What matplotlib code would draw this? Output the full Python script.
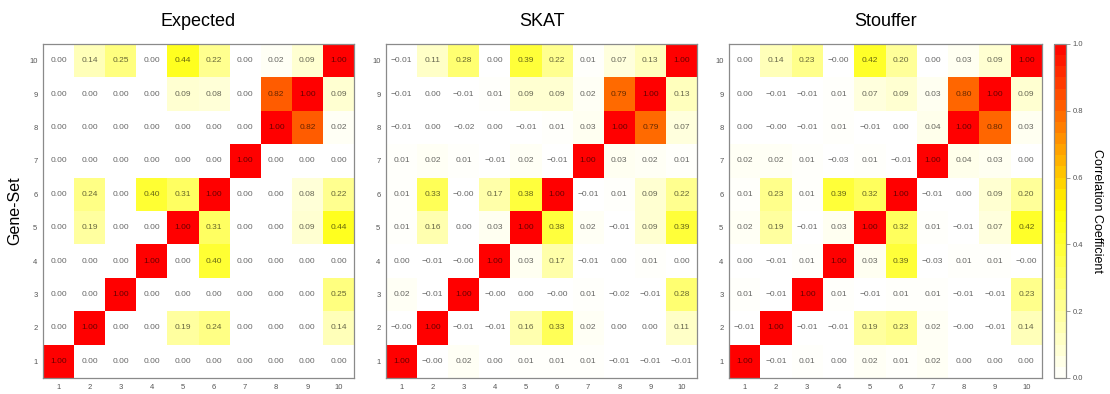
import numpy as np
import matplotlib
matplotlib.use("Agg")
import matplotlib.pyplot as plt
from matplotlib.colors import LinearSegmentedColormap, Normalize
from matplotlib.cm import ScalarMappable

plt.rcParams['font.family'] = ['Liberation Sans', 'DejaVu Sans']

gene_sets = [str(i) for i in range(1, 11)]

# Rows listed from gene-set 10 (top) down to gene-set 1 (bottom)
expected = [
    [0.00, 0.14, 0.25, 0.00, 0.44, 0.22, 0.00, 0.02, 0.09, 1.00],
    [0.00, 0.00, 0.00, 0.00, 0.09, 0.08, 0.00, 0.82, 1.00, 0.09],
    [0.00, 0.00, 0.00, 0.00, 0.00, 0.00, 0.00, 1.00, 0.82, 0.02],
    [0.00, 0.00, 0.00, 0.00, 0.00, 0.00, 1.00, 0.00, 0.00, 0.00],
    [0.00, 0.24, 0.00, 0.40, 0.31, 1.00, 0.00, 0.00, 0.08, 0.22],
    [0.00, 0.19, 0.00, 0.00, 1.00, 0.31, 0.00, 0.00, 0.09, 0.44],
    [0.00, 0.00, 0.00, 1.00, 0.00, 0.40, 0.00, 0.00, 0.00, 0.00],
    [0.00, 0.00, 1.00, 0.00, 0.00, 0.00, 0.00, 0.00, 0.00, 0.25],
    [0.00, 1.00, 0.00, 0.00, 0.19, 0.24, 0.00, 0.00, 0.00, 0.14],
    [1.00, 0.00, 0.00, 0.00, 0.00, 0.00, 0.00, 0.00, 0.00, 0.00],
]

skat = [
    [-0.01, 0.11, 0.28, 0.00, 0.39, 0.22, 0.01, 0.07, 0.13, 1.00],
    [-0.01, 0.00, -0.01, 0.01, 0.09, 0.09, 0.02, 0.79, 1.00, 0.13],
    [-0.01, 0.00, -0.02, 0.00, -0.01, 0.01, 0.03, 1.00, 0.79, 0.07],
    [0.01, 0.02, 0.01, -0.01, 0.02, -0.01, 1.00, 0.03, 0.02, 0.01],
    [0.01, 0.33, -0.0, 0.17, 0.38, 1.00, -0.01, 0.01, 0.09, 0.22],
    [0.01, 0.16, 0.00, 0.03, 1.00, 0.38, 0.02, -0.01, 0.09, 0.39],
    [0.00, -0.01, -0.0, 1.00, 0.03, 0.17, -0.01, 0.00, 0.01, 0.00],
    [0.02, -0.01, 1.00, -0.0, 0.00, -0.0, 0.01, -0.02, -0.01, 0.28],
    [-0.0, 1.00, -0.01, -0.01, 0.16, 0.33, 0.02, 0.00, 0.00, 0.11],
    [1.00, -0.0, 0.02, 0.00, 0.01, 0.01, 0.01, -0.01, -0.01, -0.01],
]

stouffer = [
    [0.00, 0.14, 0.23, -0.0, 0.42, 0.20, 0.00, 0.03, 0.09, 1.00],
    [0.00, -0.01, -0.01, 0.01, 0.07, 0.09, 0.03, 0.80, 1.00, 0.09],
    [0.00, -0.0, -0.01, 0.01, -0.01, 0.00, 0.04, 1.00, 0.80, 0.03],
    [0.02, 0.02, 0.01, -0.03, 0.01, -0.01, 1.00, 0.04, 0.03, 0.00],
    [0.01, 0.23, 0.01, 0.39, 0.32, 1.00, -0.01, 0.00, 0.09, 0.20],
    [0.02, 0.19, -0.01, 0.03, 1.00, 0.32, 0.01, -0.01, 0.07, 0.42],
    [0.00, -0.01, 0.01, 1.00, 0.03, 0.39, -0.03, 0.01, 0.01, -0.0],
    [0.01, -0.01, 1.00, 0.01, -0.01, 0.01, 0.01, -0.01, -0.01, 0.23],
    [-0.01, 1.00, -0.01, -0.01, 0.19, 0.23, 0.02, -0.0, -0.01, 0.14],
    [1.00, -0.01, 0.01, 0.00, 0.02, 0.01, 0.02, 0.00, 0.00, 0.00],
]

titles = ["Expected", "SKAT", "Stouffer"]
panels = [expected, skat, stouffer]

cmap = LinearSegmentedColormap.from_list(
    "wyr", [(0.0, "#FFFFFF"), (0.5, "#FFFF00"), (1.0, "#FF0000")])
norm = Normalize(vmin=0.0, vmax=1.0)

W, H = 1110, 394
fig = plt.figure(figsize=(W / 100, H / 100), dpi=100)

ax_rects = [(43, 378, 311, 334), (386, 378, 311, 334), (729, 378, 313, 334)]
spine_col = "#8a8a8a"

for (x0, yb, w, h), title, data in zip(ax_rects, titles, panels):
    ax = fig.add_axes([x0 / W, (H - yb) / H, w / W, h / H])
    m = np.array(data, dtype=float)[::-1]  # row 0 -> gene-set 1
    ax.pcolormesh(np.arange(0.5, 11.5), np.arange(0.5, 11.5), m,
                  cmap=cmap, norm=norm, shading="flat")
    for i in range(10):
        for j in range(10):
            s = format(m[i, j], ".2f").replace("-", "\u2212")
            ax.text(j + 1, i + 1, s, ha="center", va="center",
                    fontsize=6, color="black", alpha=0.6)
    ax.set_xlim(0.5, 10.5)
    ax.set_ylim(0.5, 10.5)
    ax.set_xticks(range(1, 11))
    ax.set_yticks(range(1, 11))
    ax.set_xticklabels(gene_sets)
    ax.set_yticklabels(gene_sets)
    ax.tick_params(length=0, labelsize=5.5, labelcolor="#555555", pad=4)
    for sp in ax.spines.values():
        sp.set_color(spine_col)
        sp.set_linewidth(0.9)
    ax.set_title(title, fontsize=13, pad=13)
    if title == "Expected":
        ax.set_ylabel("Gene-Set", fontsize=11.5, labelpad=5)

# Colour key
cax = fig.add_axes([1054 / W, (H - 378) / H, 12 / W, 334 / H])
bounds = np.linspace(0, 1, 31)
sm = ScalarMappable(cmap=cmap, norm=norm)
cb = fig.colorbar(sm, cax=cax, boundaries=bounds, ticks=[0, 0.2, 0.4, 0.6, 0.8, 1.0])
cb.ax.set_yticklabels(["0.0", "0.2", "0.4", "0.6", "0.8", "1.0"])
cb.ax.tick_params(length=3, width=0.6, color=spine_col, labelsize=5.5,
                  labelcolor="#555555", pad=2)
cb.outline.set_edgecolor(spine_col)
cb.outline.set_linewidth(0.9)
cb.set_label("Correlation Coefficient", rotation=270, fontsize=9, labelpad=14)

fig.savefig("out.png", dpi=100)
